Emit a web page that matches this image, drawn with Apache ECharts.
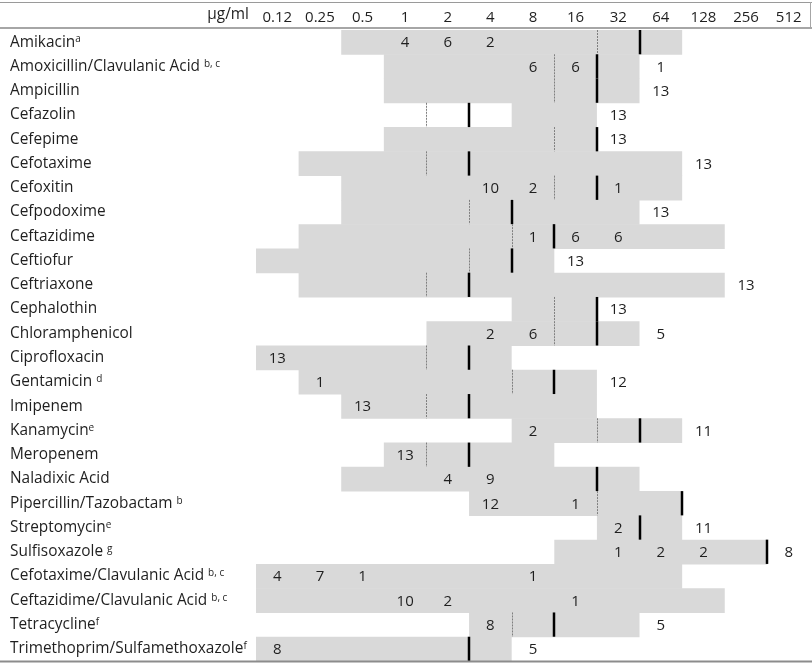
<!DOCTYPE html>
<html>
<head>
<meta charset="utf-8">
<script src="https://cdn.jsdelivr.net/npm/echarts@6/dist/echarts.min.js"></script>
<style>html,body{margin:0;padding:0;background:#fff}#c{width:812px;height:664px}</style>
</head>
<body>
<div id="c"></div>
<script>
const concentrations = ['0.12','0.25','0.5','1','2','4','8','16','32','64','128','256','512'];
const drugs = ['Amikacin','Amoxicillin/Clavulanic Acid','Ampicillin','Cefazolin','Cefepime','Cefotaxime','Cefoxitin','Cefpodoxime','Ceftazidime','Ceftiofur','Ceftriaxone','Cephalothin','Chloramphenicol','Ciprofloxacin','Gentamicin','Imipenem','Kanamycin','Meropenem','Naladixic Acid','Pipercillin/Tazobactam','Streptomycin','Sulfisoxazole','Cefotaxime/Clavulanic Acid','Ceftazidime/Clavulanic Acid','Tetracycline','Trimethoprim/Sulfamethoxazole'];
const footnotes = ['a',' b, c','','','','','','','','','','','','',' d','','e','','',' b','e',' g',' b, c',' b, c','f','f'];
const testedLow  = ['0.5','1','1','8','1','0.25','0.5','0.5','0.25','0.12','0.25','8','2','0.12','0.25','0.5','8','1','0.5','4','32','16','0.12','0.12','4','0.12'];
const testedHigh = ['64','32','32','16','16','64','64','32','128','8','128','16','32','4','16','16','64','8','32','64','64','256','64','128','32','4'];
const susceptibleBp = ['16','8','8','1','8','1','8','2','4','2','1','8','8','1','4','1','16','1',null,'16',null,null,null,null,'4',null];
const resistantBp = ['64','32','32','4','32','4','32','8','16','8','4','32','32','4','16','4','64','4','32','128','64','512',null,null,'16','4'];
const counts = [
  [['1',4],['2',6],['4',2]],
  [['8',6],['16',6],['64',1]],
  [['64',13]],
  [['32',13]],
  [['32',13]],
  [['128',13]],
  [['4',10],['8',2],['32',1]],
  [['64',13]],
  [['8',1],['16',6],['32',6]],
  [['16',13]],
  [['256',13]],
  [['32',13]],
  [['4',2],['8',6],['64',5]],
  [['0.12',13]],
  [['0.25',1],['32',12]],
  [['0.5',13]],
  [['8',2],['128',11]],
  [['1',13]],
  [['2',4],['4',9]],
  [['4',12],['16',1]],
  [['32',2],['128',11]],
  [['32',1],['64',2],['128',2],['512',8]],
  [['0.12',4],['0.25',7],['0.5',1],['8',1]],
  [['1',10],['2',2],['16',1]],
  [['4',8],['64',5]],
  [['0.12',8],['8',5]]
];

const FONT = '"Open Sans", Lato, sans-serif';
const FS = 15;
const FS_LABEL = 15.4;
const TXT = '#1f1f1f';
const ci = c => concentrations.indexOf(c);

const rangeData = drugs.map((d, i) => [i, ci(testedLow[i]), ci(testedHigh[i])]);
const lineData = [];
drugs.forEach((d, i) => {
  if (susceptibleBp[i] !== null) lineData.push([i, ci(susceptibleBp[i]) + 1, 0]);
  if (resistantBp[i] !== null) lineData.push([i, ci(resistantBp[i]), 1]);
});
const countData = [];
counts.forEach((row, i) => row.forEach(([c, n]) => countData.push([ci(c), i, n])));

const chart = echarts.init(document.getElementById('c'), null, {renderer: 'canvas'});
chart.setOption({
  animation: false,
  grid: {left: 256, right: 2, top: 30, bottom: 3},
  xAxis: {
    type: 'category', position: 'top', data: concentrations,
    axisLine: {show: false}, axisTick: {show: false}, splitLine: {show: false},
    axisLabel: {color: TXT, fontFamily: FONT, fontSize: FS, margin: 5, interval: 0}
  },
  yAxis: {
    type: 'category', inverse: true, data: drugs,
    axisLine: {show: false}, axisTick: {show: false}, splitLine: {show: false},
    axisLabel: {
      align: 'left', margin: 246, interval: 0, color: TXT, fontFamily: FONT, fontSize: FS_LABEL,
      formatter: (v) => {
        const i = drugs.indexOf(v);
        const f = footnotes[i];
        if (!f) return v;
        const sp = f.startsWith(' ') ? ' ' : '';
        return v + sp + '{s|' + f.trim() + '}';
      },
      rich: {
        s: {fontSize: 10, fontFamily: FONT, color: TXT, verticalAlign: 'top', lineHeight: 12, padding: [0, 0, 8, 0]}
      }
    }
  },
  graphic: [
    {type: 'line', shape: {x1: 0, y1: 2.5, x2: 812, y2: 2.5}, style: {stroke: '#9a9a9a', lineWidth: 1}, z: 10},
    {type: 'line', shape: {x1: 0, y1: 28, x2: 812, y2: 28}, style: {stroke: '#a6a6a6', lineWidth: 2}, z: 10},
    {type: 'line', shape: {x1: 810.5, y1: 2, x2: 810.5, y2: 28}, style: {stroke: '#a6a6a6', lineWidth: 1}, z: 10},
    {type: 'line', shape: {x1: 0, y1: 661.5, x2: 812, y2: 661.5}, style: {stroke: '#8c8c8c', lineWidth: 2}, z: 10},
    {type: 'text', right: 563, top: 7, style: {text: 'µg/ml', font: FS_LABEL + 'px ' + FONT, fill: TXT, textAlign: 'right'}}
  ],
  series: [
    {
      type: 'custom', data: rangeData, z: 1,
      renderItem: (params, api) => {
        const row = api.value(0), lo = api.value(1), hi = api.value(2);
        const p = api.coord([lo, row]);
        const s = api.size([1, 1]);
        return {type: 'rect', shape: {x: p[0] - s[0] / 2, y: p[1] - s[1] / 2, width: s[0] * (hi - lo + 1), height: s[1] + 0.5},
          style: {fill: '#d9d9d9'}};
      }
    },
    {
      type: 'custom', data: lineData, z: 3,
      renderItem: (params, api) => {
        const row = api.value(0), b = api.value(1), solid = api.value(2) === 1;
        const p = api.coord([b, row]);
        const s = api.size([1, 1]);
        const x = Math.round(p[0] - s[0] / 2) + (solid ? 0 : 0.5);
        return {type: 'line', shape: {x1: x, y1: p[1] - s[1] / 2, x2: x, y2: p[1] + s[1] / 2},
          style: solid ? {stroke: '#000', lineWidth: 2.5} : {stroke: '#7f7f7f', lineWidth: 1, lineDash: [2, 1]}};
      }
    },
    {
      type: 'custom', data: countData, z: 4,
      renderItem: (params, api) => {
        const p = api.coord([api.value(0), api.value(1)]);
        return {type: 'text', x: p[0], y: p[1] + 1,
          style: {text: String(api.value(2)), font: FS + 'px ' + FONT, fill: TXT, align: 'center', verticalAlign: 'middle'}};
      }
    }
  ]
});
</script>
</body>
</html>
